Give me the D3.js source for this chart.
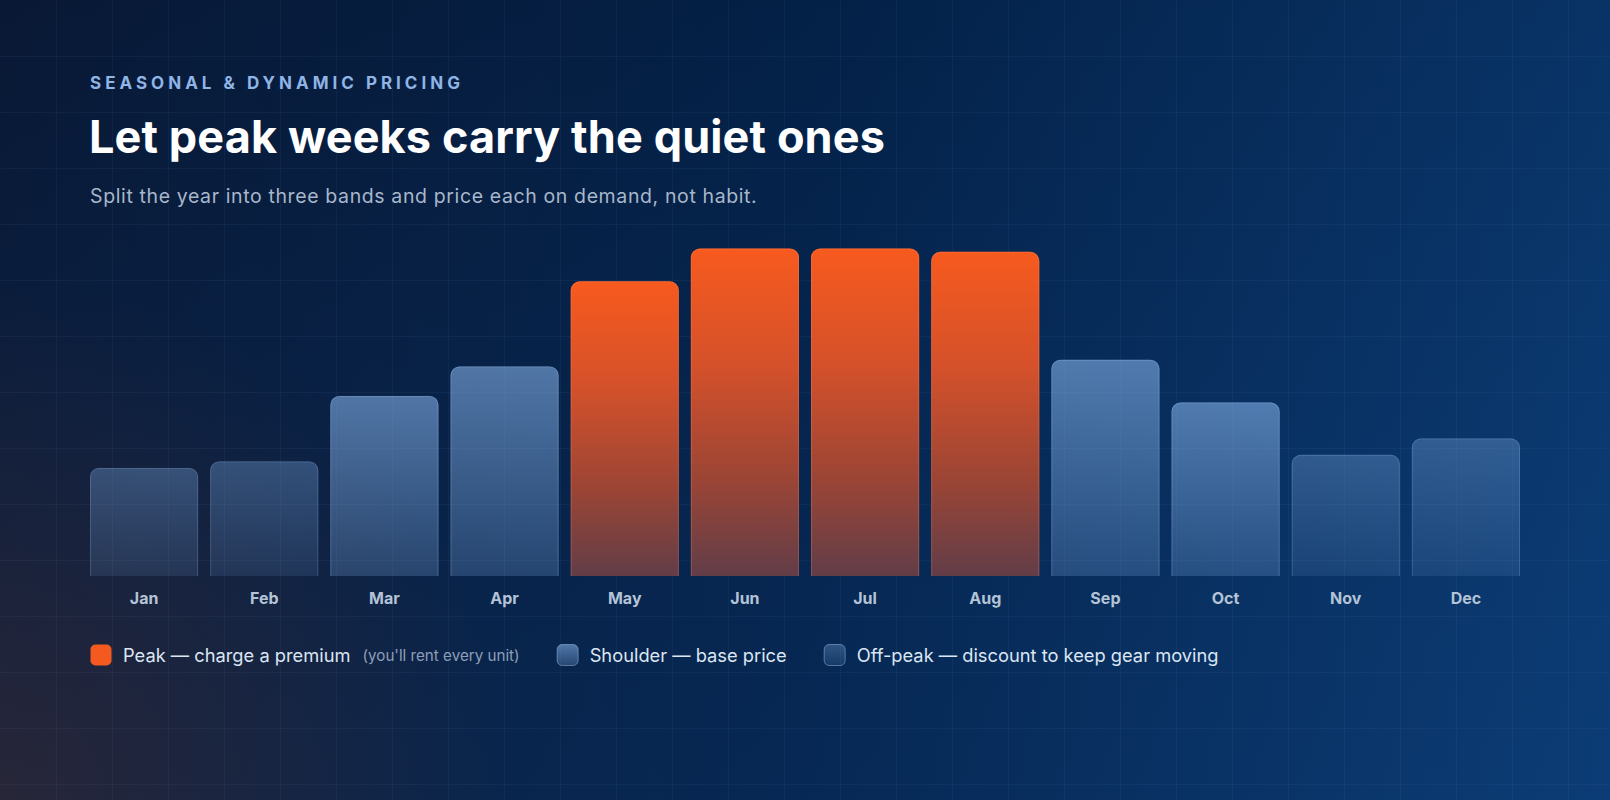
<!DOCTYPE html>
<html>
<head>
<meta charset="utf-8">
<script src="https://cdn.jsdelivr.net/npm/d3@7"></script>
<style>
  html, body { margin: 0; padding: 0; background: #071f44; }
  svg { display: block; font-family: Inter, "Noto Sans", sans-serif; }
</style>
</head>
<body>
<div id="chart"></div>
<script>
// values (relative demand, Jun = 100)
const months = ['Jan', 'Feb', 'Mar', 'Apr', 'May', 'Jun', 'Jul', 'Aug', 'Sep', 'Oct', 'Nov', 'Dec'];
const demand = [33, 35, 55, 64, 90, 100, 100, 99, 66, 53, 37, 42];
const tiers = ['offpeak', 'offpeak', 'shoulder', 'shoulder', 'peak', 'peak', 'peak', 'peak', 'shoulder', 'shoulder', 'offpeak', 'offpeak'];
const legendKeys = ['peak', 'shoulder', 'offpeak'];
const legendLabels = ['Peak — charge a premium', 'Shoulder — base price', 'Off-peak — discount to keep gear moving'];
const legendNotes = ["(you'll rent every unit)", '', ''];

const width = 1610, height = 800;

const svg = d3.select('#chart').append('svg')
  .attr('width', width)
  .attr('height', height);

const defs = svg.append('defs');

// background
const bgLin = defs.append('linearGradient').attr('id', 'bg-lin')
  .attr('x1', 0).attr('y1', 0).attr('x2', 1).attr('y2', 0);
bgLin.append('stop').attr('offset', 0).attr('stop-color', '#0a1b39');
bgLin.append('stop').attr('offset', 0.5).attr('stop-color', '#04244d');
bgLin.append('stop').attr('offset', 1).attr('stop-color', '#0a3a72');

const bgVert = defs.append('linearGradient').attr('id', 'bg-vert')
  .attr('x1', 0).attr('y1', 0).attr('x2', 0).attr('y2', 1);
bgVert.append('stop').attr('offset', 0).attr('stop-color', '#000a1e').attr('stop-opacity', 0.15);
bgVert.append('stop').attr('offset', 1).attr('stop-color', '#1e5096').attr('stop-opacity', 0.1);

const bgWarm = defs.append('radialGradient').attr('id', 'bg-warm')
  .attr('gradientUnits', 'userSpaceOnUse')
  .attr('cx', 0).attr('cy', height).attr('r', 520);
bgWarm.append('stop').attr('offset', 0).attr('stop-color', '#3a2a32').attr('stop-opacity', 0.6);
bgWarm.append('stop').attr('offset', 1).attr('stop-color', '#3a2a32').attr('stop-opacity', 0);

svg.append('rect').attr('width', width).attr('height', height).attr('fill', 'url(#bg-lin)');
svg.append('rect').attr('width', width).attr('height', height).attr('fill', 'url(#bg-vert)');
svg.append('rect').attr('width', width).attr('height', height).attr('fill', 'url(#bg-warm)');

// faint blueprint grid
const gridStep = 56;
const grid = svg.append('g').attr('stroke', '#8cb4ff').attr('stroke-opacity', 0.055).attr('stroke-width', 1);
grid.selectAll('line.v').data(d3.range(gridStep, width, gridStep)).join('line')
  .attr('class', 'v')
  .attr('x1', d => d + 0.5).attr('x2', d => d + 0.5)
  .attr('y1', 0).attr('y2', height);
grid.selectAll('line.h').data(d3.range(gridStep, height, gridStep)).join('line')
  .attr('class', 'h')
  .attr('y1', d => d + 0.5).attr('y2', d => d + 0.5)
  .attr('x1', 0).attr('x2', width);

// bar gradients
const peakGrad = defs.append('linearGradient').attr('id', 'g-peak')
  .attr('x1', 0).attr('y1', 0).attr('x2', 0).attr('y2', 1);
peakGrad.append('stop').attr('offset', 0).attr('stop-color', '#f75a1e');
peakGrad.append('stop').attr('offset', 0.35).attr('stop-color', '#d5512a');
peakGrad.append('stop').attr('offset', 0.7).attr('stop-color', '#9c4535');
peakGrad.append('stop').attr('offset', 1).attr('stop-color', '#623d48');

const shGrad = defs.append('linearGradient').attr('id', 'g-shoulder')
  .attr('x1', 0).attr('y1', 0).attr('x2', 0).attr('y2', 1);
shGrad.append('stop').attr('offset', 0).attr('stop-color', '#82afe6').attr('stop-opacity', 0.6);
shGrad.append('stop').attr('offset', 1).attr('stop-color', '#82afe6').attr('stop-opacity', 0.24);

const offGrad = defs.append('linearGradient').attr('id', 'g-offpeak')
  .attr('x1', 0).attr('y1', 0).attr('x2', 0).attr('y2', 1);
offGrad.append('stop').attr('offset', 0).attr('stop-color', '#78a5dc').attr('stop-opacity', 0.36);
offGrad.append('stop').attr('offset', 1).attr('stop-color', '#78a5dc').attr('stop-opacity', 0.14);

const fills = { peak: 'url(#g-peak)', shoulder: 'url(#g-shoulder)', offpeak: 'url(#g-offpeak)' };
const strokes = { peak: 'rgba(255,150,110,0.25)', shoulder: 'rgba(170,205,245,0.25)', offpeak: 'rgba(170,205,245,0.2)' };

// headings
function fitWidth(sel, target) {
  const w = sel.node().getComputedTextLength();
  const n = sel.text().length;
  sel.attr('letter-spacing', ((target - w) / (n - 1)).toFixed(2));
}

const eyebrow = svg.append('text')
  .attr('x', 90).attr('y', 88.5)
  .attr('fill', '#8fb4e6')
  .style('font-size', '17px').style('font-weight', 700)
  .text('SEASONAL & DYNAMIC PRICING');
fitWidth(eyebrow, 370);

const title = svg.append('text')
  .attr('x', 89).attr('y', 153)
  .attr('fill', '#ffffff')
  .style('font-size', '45px').style('font-weight', 700)
  .text('Let peak weeks carry the quiet ones');
fitWidth(title, 796);

const subtitle = svg.append('text')
  .attr('x', 90).attr('y', 203)
  .attr('fill', '#a8b7cb')
  .style('font-size', '19.5px')
  .text('Split the year into three bands and price each on demand, not habit.');
fitWidth(subtitle, 667);

// chart
const x = d3.scaleBand()
  .domain(months)
  .range([90, 1520])
  .paddingInner(0.1)
  .paddingOuter(0);

const y = d3.scaleLinear()
  .domain([0, 100])
  .range([576, 248.5]);

function topRounded(x0, y0, w, h, r) {
  r = Math.min(r, h, w / 2);
  return `M${x0},${y0 + h}V${y0 + r}A${r},${r} 0 0 1 ${x0 + r},${y0}H${x0 + w - r}A${r},${r} 0 0 1 ${x0 + w},${y0 + r}V${y0 + h}`;
}

const bars = svg.append('g').attr('class', 'bars')
  .selectAll('g')
  .data(months.map((m, i) => ({ month: m, value: demand[i], tier: tiers[i] })))
  .join('g');

bars.append('path')
  .attr('d', d => topRounded(x(d.month), y(d.value), x.bandwidth(), y(0) - y(d.value), 9) + 'Z')
  .attr('fill', d => fills[d.tier]);

bars.append('path')
  .attr('d', d => topRounded(x(d.month) + 0.5, y(d.value) + 0.5, x.bandwidth() - 1, y(0) - y(d.value) - 0.5, 8.5))
  .attr('fill', 'none')
  .attr('stroke', d => strokes[d.tier])
  .attr('stroke-width', 1);

const xAxis = svg.append('g')
  .attr('transform', `translate(0,${y(0)})`)
  .call(d3.axisBottom(x).tickSize(0).tickPadding(28));
xAxis.select('.domain').remove();
xAxis.selectAll('text')
  .attr('dy', 0)
  .attr('fill', '#b4c3d6')
  .style('font-family', 'Inter, "Noto Sans", sans-serif')
  .style('font-size', '16px')
  .style('font-weight', 700);

// legend
const legend = svg.append('g').attr('class', 'legend');
let lx = 90;
const ly = 655;
legendKeys.forEach((key, i) => {
  const g = legend.append('g');
  g.append('rect')
    .attr('x', lx + 0.5).attr('y', ly - 10.5)
    .attr('width', 21).attr('height', 21)
    .attr('rx', 5)
    .attr('fill', key === 'peak' ? '#f45a20' : fills[key])
    .attr('stroke', key === 'peak' ? 'none' : 'rgba(170,205,245,0.45)');
  const t = g.append('text')
    .attr('x', lx + 33).attr('y', ly + 6.5)
    .attr('fill', '#dce6f2')
    .style('font-size', '18.3px')
    .text(legendLabels[i]);
  lx += 33 + t.node().getComputedTextLength();
  if (legendNotes[i]) {
    const n = g.append('text')
      .attr('x', lx + 12).attr('y', ly + 5.5)
      .attr('fill', '#8d9fb8')
      .style('font-size', '15.2px')
      .text(legendNotes[i]);
    lx += 12 + n.node().getComputedTextLength();
  }
  lx += 37;
});
</script>
</body>
</html>
